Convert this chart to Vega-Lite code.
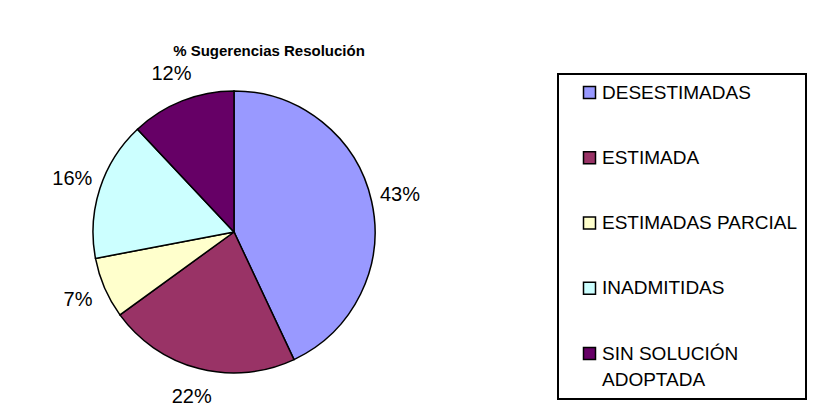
{
  "$schema": "https://vega.github.io/schema/vega-lite/v6.json",
  "width": 468,
  "height": 324,
  "autosize": {"type": "none"},
  "padding": {"left": 0, "top": 70, "right": 363, "bottom": 13},
  "background": "white",
  "config": {"view": {"stroke": null}},
  "title": {
    "text": "% Sugerencias Resolución",
    "font": "Liberation Sans",
    "fontSize": 15,
    "fontWeight": "bold",
    "color": "black",
    "anchor": "middle",
    "dx": 35,
    "dy": 22,
    "offset": 15,
    "baseline": "alphabetic"
  },
  "data": {
    "values": [
      {"categoria": "DESESTIMADAS", "pct": 0.43, "orden": 1},
      {"categoria": "ESTIMADA", "pct": 0.22, "orden": 2},
      {"categoria": "ESTIMADAS PARCIAL", "pct": 0.07, "orden": 3},
      {"categoria": "INADMITIDAS", "pct": 0.16, "orden": 4},
      {"categoria": "SIN SOLUCIÓN ADOPTADA", "pct": 0.12, "orden": 5}
    ]
  },
  "encoding": {
    "theta": {"field": "pct", "type": "quantitative", "stack": true},
    "order": {"field": "orden", "type": "quantitative", "sort": "ascending"}
  },
  "layer": [
    {
      "mark": {"type": "arc", "outerRadius": 141, "stroke": "black", "strokeWidth": 1.5},
      "encoding": {
        "color": {
          "field": "categoria",
          "type": "nominal",
          "scale": {
            "domain": ["DESESTIMADAS", "ESTIMADA", "ESTIMADAS PARCIAL", "INADMITIDAS", "SIN SOLUCIÓN ADOPTADA"],
            "range": ["#9999FF", "#993366", "#FFFFCC", "#CCFFFF", "#660066"]
          },
          "legend": {
            "orient": "none",
            "legendX": 558,
            "legendY": 4,
            "title": null,
            "strokeColor": "black",
            "padding": 9,
            "symbolType": "square",
            "symbolSize": 144,
            "symbolStrokeColor": "black",
            "symbolStrokeWidth": 1.5,
            "symbolOffset": 13,
            "labelOffset": 3,
            "labelFont": "Liberation Sans",
            "labelFontSize": 19,
            "labelColor": "black",
            "labelLimit": 600,
            "rowPadding": 45.25,
            "labelExpr": "datum.label == 'SIN SOLUCIÓN ADOPTADA' ? ['SIN SOLUCIÓN', 'ADOPTADA'] : datum.label",
            "encode": {
              "legend": {"update": {"strokeWidth": {"value": 2}, "width": {"value": 300}}},
              "labels": {"update": {"lineHeight": {"value": 26}}}
            }
          }
        }
      }
    },
    {
      "mark": {"type": "text", "radius": 170, "font": "Liberation Sans", "fontSize": 20, "color": "black"},
      "encoding": {
        "text": {"field": "pct", "type": "quantitative", "format": ".0%"}
      }
    }
  ]
}
